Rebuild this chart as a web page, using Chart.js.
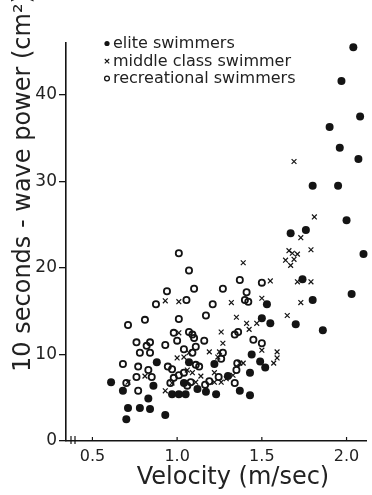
<!DOCTYPE html>
<html>
<head>
<meta charset="utf-8">
<script src="https://cdn.jsdelivr.net/npm/chart.js@4"></script>
<style>
  html, body { margin: 0; padding: 0; background: #fff; }
  #wrap { width: 372px; height: 495px; position: relative; }
</style>
</head>
<body>
<div id="wrap"><canvas id="chart"></canvas></div>
<script>
// elite swimmers (filled dots)
const eliteVelocity = [2.04, 1.97, 2.08, 1.90, 1.96, 2.07, 1.80, 1.95, 2.00, 1.67, 1.76, 2.10, 1.74, 2.03, 1.80,
  1.53, 1.50, 1.55, 1.70, 1.86, 1.49, 1.52, 0.61, 0.68, 0.71, 0.70, 0.78, 0.84, 0.83, 0.88, 0.86, 0.93, 0.97,
  1.01, 1.05, 1.04, 1.07, 1.12, 1.17, 1.23, 1.22, 1.30, 1.37, 1.43, 1.43, 1.44];
const elitePower = [45.5, 41.6, 37.5, 36.3, 33.9, 32.6, 29.5, 29.5, 25.5, 24.0, 24.4, 21.6, 18.7, 17.0, 16.3,
  15.8, 14.2, 13.6, 13.5, 12.8, 9.2, 8.5, 6.8, 5.8, 3.8, 2.5, 3.8, 3.7, 4.9, 9.1, 6.4, 3.0, 5.4,
  5.4, 5.4, 6.7, 9.1, 6.0, 5.7, 5.4, 8.9, 7.5, 5.8, 5.3, 7.9, 10.0];

// middle class swimmers (crosses)
const middleVelocity = [1.69, 1.81, 1.73, 1.66, 1.68, 1.71, 1.64, 1.69, 1.67, 1.79, 1.39, 1.55, 1.71, 1.79, 1.73,
  1.32, 1.50, 0.93, 1.01, 1.35, 1.41, 1.47, 1.65, 1.425, 1.26, 1.27, 0.71, 0.81, 0.93, 0.97, 1.00, 1.04, 1.01,
  1.06, 1.07, 1.09, 1.11, 1.14, 1.19, 1.22, 1.22, 1.25, 1.24, 1.26, 1.29, 1.33, 1.39, 1.37, 1.50, 1.57, 1.59, 1.59];
const middlePower = [32.3, 25.9, 23.5, 22.0, 21.7, 21.6, 20.9, 21.0, 20.3, 22.1, 20.6, 18.5, 18.4, 18.4, 16.0,
  16.0, 16.5, 16.2, 16.1, 14.3, 13.6, 13.6, 14.5, 12.9, 12.6, 11.3, 6.8, 7.5, 5.8, 6.7, 9.6, 9.7, 12.5,
  8.2, 10.2, 7.9, 6.8, 7.5, 10.3, 7.9, 6.8, 10.3, 9.7, 6.8, 7.2, 7.6, 9.0, 9.0, 10.5, 9.0, 9.6, 10.3];

// recreational swimmers (open circles)
const recVelocity = [1.01, 1.07, 0.94, 1.10, 0.875, 1.055, 1.27, 1.37, 1.50, 1.41, 1.21, 1.40, 1.42, 0.71, 0.81,
  1.01, 1.17, 0.76, 0.84, 0.82, 0.78, 0.84, 0.68, 0.77, 0.83, 0.76, 0.85, 0.70, 0.77, 0.93, 0.98, 1.00, 1.07,
  1.09, 1.10, 1.11, 1.16, 1.04, 1.09, 0.945, 0.97, 1.01, 1.04, 0.96, 0.98, 1.08, 1.06, 1.11, 1.13, 1.165, 1.26,
  1.27, 1.245, 1.19, 1.35, 1.355, 1.34, 1.36, 1.45, 1.50, 1.34];
const recPower = [21.7, 19.7, 17.3, 17.6, 15.8, 16.3, 17.6, 18.6, 18.3, 17.2, 15.8, 16.3, 16.1, 13.4, 14.0,
  14.1, 14.5, 11.4, 11.4, 11.0, 10.2, 10.2, 8.9, 8.6, 8.2, 7.4, 7.4, 6.7, 5.8, 11.1, 12.5, 11.6, 12.6,
  12.3, 11.9, 10.9, 11.6, 10.6, 10.2, 8.6, 8.3, 7.6, 7.9, 6.7, 7.3, 6.8, 6.4, 8.8, 8.6, 6.5, 9.5,
  10.2, 7.4, 6.9, 8.2, 9.0, 6.7, 12.6, 11.7, 11.3, 12.3];

const xTicks = [0.5, 1.0, 1.5, 2.0];
const yTicks = [0, 10, 20, 30, 40];
const legendLabels = ['elite swimmers', 'middle class swimmer', 'recreational swimmers'];

const INK = '#141414';
const FONT = 'DejaVu Sans';

const pts = (xs, ys) => xs.map((v, i) => ({ x: v, y: ys[i] }));

// axis titles, legend, inward x ticks and the axis break near the origin
const overlay = {
  id: 'overlay',
  afterDraw(chart) {
    const { ctx, chartArea: ca, scales: { x } } = chart;
    ctx.save();
    ctx.strokeStyle = INK;
    ctx.fillStyle = '#222';

    // small inward ticks on the x axis
    ctx.lineWidth = 1.2;
    xTicks.forEach(v => {
      const px = x.getPixelForValue(v);
      ctx.beginPath();
      ctx.moveTo(px, ca.bottom);
      ctx.lineTo(px, ca.bottom - 4);
      ctx.stroke();
    });
    // break marks
    [71, 75].forEach(px => {
      ctx.beginPath();
      ctx.moveTo(px, ca.bottom - 5);
      ctx.lineTo(px, ca.bottom + 3);
      ctx.stroke();
    });

    // x title
    ctx.font = `24px ${FONT}`;
    ctx.textAlign = 'center';
    ctx.textBaseline = 'alphabetic';
    ctx.fillText('Velocity (m/sec)', 233, 484);

    // y title
    ctx.save();
    ctx.translate(24, 183);
    ctx.rotate(-Math.PI / 2);
    ctx.textBaseline = 'middle';
    ctx.fillText('10 seconds - wave power (cm\u00B2)', 0, 0);
    ctx.restore();

    // legend
    ctx.font = `16px ${FONT}`;
    ctx.textAlign = 'left';
    ctx.textBaseline = 'alphabetic';
    const rows = [48, 65.5, 83];
    legendLabels.forEach((t, i) => ctx.fillText(t, 113, rows[i]));
    const mx = 107;
    ctx.beginPath();
    ctx.arc(mx, rows[0] - 4.5, 2.6, 0, Math.PI * 2);
    ctx.fillStyle = INK;
    ctx.fill();
    ctx.lineWidth = 1.1;
    ctx.beginPath();
    ctx.moveTo(mx - 2.2, rows[1] - 6.5); ctx.lineTo(mx + 2.2, rows[1] - 2.1);
    ctx.moveTo(mx + 2.2, rows[1] - 6.5); ctx.lineTo(mx - 2.2, rows[1] - 2.1);
    ctx.stroke();
    ctx.lineWidth = 1.3;
    ctx.beginPath();
    ctx.arc(mx, rows[2] - 4.5, 2.4, 0, Math.PI * 2);
    ctx.stroke();

    ctx.restore();
  }
};

new Chart(document.getElementById('chart'), {
  type: 'scatter',
  data: {
    datasets: [
      {
        label: legendLabels[0],
        data: pts(eliteVelocity, elitePower),
        pointStyle: 'circle',
        pointRadius: 4,
        backgroundColor: INK,
        borderColor: INK,
        borderWidth: 0,
        clip: false
      },
      {
        label: legendLabels[1],
        data: pts(middleVelocity, middlePower),
        pointStyle: 'crossRot',
        pointRadius: 3.4,
        borderColor: INK,
        borderWidth: 1.2,
        clip: false
      },
      {
        label: legendLabels[2],
        data: pts(recVelocity, recPower),
        pointStyle: 'circle',
        pointRadius: 3.1,
        backgroundColor: 'transparent',
        borderColor: INK,
        borderWidth: 1.8,
        clip: false
      }
    ]
  },
  options: {
    responsive: true,
    maintainAspectRatio: false,
    animation: false,
    layout: { padding: { top: 43, right: 0, left: 0, bottom: 0 } },
    plugins: {
      legend: { display: false },
      tooltip: { enabled: false }
    },
    scales: {
      x: {
        type: 'linear',
        min: 0.344,
        max: 2.116,
        afterBuildTicks: s => { s.ticks = xTicks.map(v => ({ value: v })); },
        afterFit: s => { s.height = 54; },
        border: { display: true, color: INK, width: 1.6 },
        grid: { drawOnChartArea: false, drawTicks: false },
        ticks: {
          color: '#222',
          padding: 6,
          font: { size: 16, family: FONT },
          callback: v => v.toFixed(1)
        }
      },
      y: {
        type: 'linear',
        min: 0,
        max: 46,
        afterBuildTicks: s => { s.ticks = yTicks.map(v => ({ value: v })); },
        afterFit: s => { s.width = 66; },
        border: { display: true, color: INK, width: 1.6 },
        grid: { drawOnChartArea: false, drawTicks: true, tickLength: 7, color: INK, lineWidth: 1.3 },
        ticks: {
          color: '#222',
          padding: 2,
          font: { size: 17, family: FONT },
          callback: v => String(v)
        }
      }
    }
  },
  plugins: [overlay]
});
</script>
</body>
</html>
